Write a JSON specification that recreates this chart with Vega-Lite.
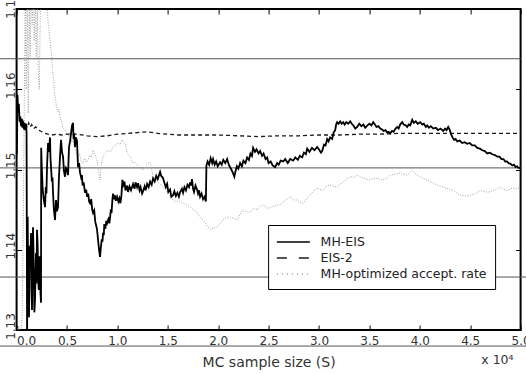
{
  "$schema": "https://vega.github.io/schema/vega-lite/v6.json",
  "width": 504,
  "height": 321,
  "autosize": {"type": "none"},
  "padding": {"left": 16.6, "top": 9, "right": 5.4, "bottom": 44},
  "background": "white",
  "config": {
    "view": {"stroke": "black", "strokeWidth": 2},
    "font": "DejaVu Sans",
    "axis": {
      "domain": false,
      "grid": false,
      "ticks": true,
      "tickColor": "black",
      "tickWidth": 1,
      "tickSize": 5,
      "offset": -5,
      "labelFont": "DejaVu Sans",
      "labelFontSize": 12,
      "labelColor": "#333333",
      "labelOverlap": false,
      "labelBound": false,
      "labelFlush": false
    }
  },
  "datasets": {
    "levels": [
      {"level": 1.1638, "from": -1650, "to": 50000},
      {"level": 1.1502, "from": -1650, "to": 50150},
      {"level": 1.1366, "from": -1650, "to": 50550},
      {"level": 1.1280, "from": -1650, "to": 50550}
    ],
    "optimized": [
      [40,1.1285],[200,1.1305],[400,1.1295],[550,1.1320],[650,1.1420],[750,1.1560],[850,1.1720],[950,1.1600],[1050,1.1730],[1150,1.1570],[1250,1.1700],[1350,1.1640],[1450,1.1740],[1550,1.1680],[1650,1.1730],[1750,1.1660],[1850,1.1720],[1950,1.1640],[2050,1.1700],[2150,1.1620],[2250,1.1600],[2350,1.1690],[2450,1.1740],[2550,1.1700],[2650,1.1750],[2750,1.1720],[2850,1.1760],[2950,1.1720],[3050,1.1700],[3150,1.1680],[3315,1.1660],[3450,1.1645],[3550,1.1625],[3650,1.1615],[3750,1.1595],[3850,1.1590],[3950,1.1578],[4100,1.1572],[4200,1.1575],[4308,1.1565],[4450,1.1560],[4600,1.1552],[4750,1.1550],[5003,1.1545],[5150,1.1541],[5300,1.1545],[5450,1.1534],[5598,1.1537],[5750,1.1528],[5900,1.1522],[6095,1.1516],[6250,1.1520],[6400,1.1510],[6591,1.1508],[6750,1.1514],[6900,1.1509],[7088,1.1512],[7250,1.1518],[7400,1.1515],[7584,1.1524],[7750,1.1518],[7980,1.1512],[8100,1.1500],[8278,1.1487],[8400,1.1505],[8576,1.1516],[8800,1.1520],[9072,1.1524],[9300,1.1522],[9569,1.1528],[9800,1.1530],[10065,1.1533],[10250,1.1531],[10463,1.1537],[10600,1.1534],[10761,1.1533],[10959,1.1521],[11100,1.1518],[11257,1.1516],[11400,1.1512],[11555,1.1508],[11750,1.1509],[11952,1.1506],[12250,1.1502],[12547,1.1499],[12900,1.1505],[13243,1.1509],[13400,1.1500],[13541,1.1491],[13800,1.1488],[14050,1.1484],[14300,1.1481],[14534,1.1478],[14800,1.1474],[15050,1.1470],[15300,1.1466],[15524,1.1462],[15800,1.1460],[16100,1.1461],[16517,1.1458],[16850,1.1456],[17211,1.1453],[17500,1.1450],[17850,1.1447],[18204,1.1441],[18500,1.1437],[18850,1.1431],[19197,1.1425],[19500,1.1427],[19892,1.1428],[20200,1.1433],[20487,1.1437],[20800,1.1440],[21182,1.1441],[21500,1.1439],[21877,1.1437],[22150,1.1444],[22472,1.1450],[22800,1.1447],[23167,1.1447],[23500,1.1451],[23862,1.1450],[24150,1.1454],[24458,1.1456],[24800,1.1452],[25153,1.1452],[25600,1.1455],[26145,1.1456],[26600,1.1461],[27138,1.1466],[27500,1.1462],[27833,1.1462],[28100,1.1459],[28428,1.1458],[28800,1.1464],[29123,1.1468],[29450,1.1473],[29818,1.1477],[30100,1.1475],[30413,1.1474],[30750,1.1479],[31108,1.1481],[31450,1.1479],[31803,1.1478],[32100,1.1482],[32399,1.1484],[32750,1.1488],[33093,1.1491],[33450,1.1490],[33788,1.1493],[34100,1.1491],[34384,1.1489],[34750,1.1488],[35079,1.1487],[35400,1.1489],[35774,1.1489],[36250,1.1487],[36766,1.1489],[37064,1.1493],[37550,1.1494],[38057,1.1496],[38400,1.1494],[38751,1.1493],[39000,1.1496],[39248,1.1499],[39500,1.1496],[39744,1.1493],[40050,1.1491],[40340,1.1489],[40850,1.1486],[41332,1.1483],[41850,1.1480],[42325,1.1478],[42800,1.1476],[43318,1.1474],[43650,1.1471],[44012,1.1468],[44500,1.1467],[45005,1.1468],[45500,1.1470],[45997,1.1474],[46500,1.1472],[46990,1.1472],[47500,1.1475],[47983,1.1478],[48300,1.1475],[48678,1.1474],[49000,1.1476],[49273,1.1477],[49600,1.1476],[49968,1.1478]
    ],
    "eis2": [
      [300,1.1562],[450,1.1556],[600,1.1561],[750,1.1554],[900,1.1559],[1050,1.1552],[1200,1.1558],[1350,1.1553],[1500,1.1556],[1700,1.1551],[1900,1.1553],[2200,1.1549],[2500,1.1547],[2800,1.1545],[3100,1.1544],[3500,1.1543],[4000,1.1544],[4500,1.1543],[5000,1.1544],[6000,1.1544],[7000,1.1542],[8000,1.1541],[9000,1.1542],[10000,1.1544],[11000,1.1545],[12000,1.1546],[13000,1.1547],[14000,1.1545],[15000,1.1544],[16000,1.1543],[18000,1.1543],[20000,1.1543],[22000,1.1542],[24000,1.1541],[26000,1.1542],[28000,1.1542],[30000,1.1543],[32000,1.1543],[34000,1.1544],[36000,1.1544],[38000,1.1545],[40000,1.1545],[42000,1.1545],[44000,1.1545],[46000,1.1545],[48000,1.1545],[50000,1.1545]
    ],
    "mheis": [
      [30,1.1520],[90,1.1593],[150,1.1572],[220,1.1582],[300,1.1560],[370,1.1566],[440,1.1554],[510,1.1563],[580,1.1552],[650,1.1560],[720,1.1550],[790,1.1558],[860,1.1549],[930,1.1556],[990,1.1546],[1040,1.1285],[1100,1.1441],[1160,1.1340],[1231,1.1316],[1300,1.1405],[1360,1.1380],[1429,1.1421],[1480,1.1350],[1529,1.1325],[1580,1.1395],[1628,1.1428],[1700,1.1382],[1760,1.1322],[1826,1.1337],[1880,1.1372],[1926,1.1396],[1975,1.1358],[2025,1.1425],[2080,1.1408],[2130,1.1378],[2180,1.1352],[2223,1.1350],[2280,1.1392],[2323,1.1378],[2370,1.1346],[2422,1.1334],[2440,1.1527],[2480,1.1510],[2521,1.1496],[2570,1.1480],[2620,1.1471],[2700,1.1462],[2819,1.1453],[2900,1.1478],[2960,1.1470],[3017,1.1503],[3117,1.1533],[3200,1.1522],[3315,1.1540],[3360,1.1515],[3415,1.1503],[3500,1.1485],[3560,1.1490],[3613,1.1471],[3700,1.1450],[3812,1.1437],[3911,1.1462],[4000,1.1448],[4110,1.1453],[4200,1.1490],[4308,1.1516],[4407,1.1537],[4500,1.1522],[4606,1.1516],[4700,1.1498],[4804,1.1491],[4900,1.1502],[5003,1.1500],[5100,1.1493],[5201,1.1528],[5300,1.1535],[5400,1.1545],[5499,1.1555],[5598,1.1558],[5650,1.1538],[5700,1.1545],[5797,1.1528],[5900,1.1540],[5995,1.1535],[6095,1.1503],[6200,1.1508],[6293,1.1496],[6400,1.1490],[6480,1.1493],[6550,1.1480],[6650,1.1484],[6790,1.1471],[6900,1.1475],[7000,1.1466],[7100,1.1470],[7200,1.1460],[7286,1.1458],[7400,1.1463],[7500,1.1450],[7584,1.1446],[7700,1.1449],[7800,1.1435],[7900,1.1430],[7980,1.1425],[8100,1.1410],[8200,1.1398],[8278,1.1391],[8350,1.1402],[8450,1.1413],[8520,1.1410],[8576,1.1421],[8650,1.1418],[8700,1.1432],[8800,1.1426],[8900,1.1436],[8973,1.1433],[9100,1.1438],[9200,1.1433],[9271,1.1440],[9350,1.1450],[9420,1.1446],[9500,1.1462],[9569,1.1470],[9650,1.1463],[9750,1.1468],[9850,1.1461],[9966,1.1466],[10100,1.1460],[10200,1.1464],[10300,1.1458],[10400,1.1468],[10500,1.1487],[10600,1.1481],[10700,1.1485],[10800,1.1474],[10959,1.1480],[11050,1.1472],[11200,1.1479],[11350,1.1474],[11555,1.1482],[11700,1.1476],[11800,1.1484],[11950,1.1478],[12051,1.1483],[12200,1.1474],[12300,1.1478],[12450,1.1470],[12547,1.1473],[12700,1.1479],[12800,1.1474],[12950,1.1482],[13100,1.1478],[13243,1.1485],[13400,1.1481],[13541,1.1489],[13700,1.1485],[13850,1.1492],[14000,1.1488],[14236,1.1497],[14350,1.1492],[14500,1.1490],[14650,1.1484],[14800,1.1478],[14931,1.1482],[15050,1.1472],[15227,1.1475],[15350,1.1466],[15524,1.1468],[15650,1.1473],[15800,1.1467],[15950,1.1471],[16100,1.1466],[16219,1.1472],[16400,1.1476],[16517,1.1471],[16650,1.1478],[16800,1.1474],[16950,1.1481],[17100,1.1478],[17211,1.1484],[17300,1.1480],[17400,1.1488],[17510,1.1476],[17600,1.1472],[17750,1.1480],[17907,1.1475],[18000,1.1470],[18100,1.1474],[18204,1.1466],[18350,1.1470],[18500,1.1463],[18650,1.1466],[18780,1.1460],[18830,1.1505],[18950,1.1510],[19100,1.1506],[19250,1.1514],[19400,1.1508],[19495,1.1513],[19650,1.1506],[19800,1.1510],[19950,1.1504],[20189,1.1509],[20350,1.1506],[20500,1.1512],[20700,1.1508],[20884,1.1513],[21050,1.1506],[21300,1.1500],[21450,1.1496],[21600,1.1491],[21700,1.1497],[21850,1.1504],[22000,1.1501],[22174,1.1508],[22350,1.1504],[22500,1.1511],[22700,1.1508],[22869,1.1515],[23050,1.1512],[23200,1.1520],[23350,1.1517],[23465,1.1527],[23650,1.1522],[23800,1.1525],[24000,1.1520],[24160,1.1523],[24350,1.1517],[24500,1.1520],[24700,1.1513],[24855,1.1515],[25000,1.1508],[25200,1.1510],[25400,1.1505],[25649,1.1503],[25850,1.1508],[26000,1.1506],[26200,1.1511],[26443,1.1510],[26650,1.1513],[26900,1.1508],[27150,1.1513],[27436,1.1511],[27650,1.1515],[27900,1.1512],[28100,1.1517],[28329,1.1515],[28500,1.1521],[28700,1.1519],[28825,1.1526],[29050,1.1522],[29300,1.1527],[29550,1.1524],[29818,1.1528],[30000,1.1525],[30200,1.1521],[30314,1.1523],[30500,1.1531],[30650,1.1530],[30810,1.1538],[30950,1.1535],[31100,1.1540],[31307,1.1538],[31450,1.1546],[31605,1.1549],[31700,1.1556],[31803,1.1559],[31950,1.1557],[32100,1.1560],[32250,1.1557],[32399,1.1559],[32550,1.1556],[32700,1.1559],[32900,1.1557],[33093,1.1560],[33250,1.1557],[33400,1.1555],[33600,1.1551],[33788,1.1553],[34000,1.1557],[34200,1.1554],[34400,1.1556],[34582,1.1552],[34800,1.1555],[35000,1.1557],[35200,1.1555],[35376,1.1559],[35550,1.1556],[35700,1.1553],[35900,1.1554],[36071,1.1551],[36250,1.1550],[36400,1.1548],[36600,1.1549],[36766,1.1546],[36900,1.1547],[37064,1.1545],[37250,1.1548],[37400,1.1547],[37600,1.1551],[37759,1.1553],[37900,1.1551],[38050,1.1556],[38255,1.1559],[38400,1.1556],[38600,1.1555],[38751,1.1553],[38900,1.1556],[39050,1.1555],[39248,1.1562],[39400,1.1558],[39600,1.1560],[39800,1.1557],[40042,1.1559],[40250,1.1556],[40400,1.1557],[40600,1.1553],[40737,1.1555],[40900,1.1552],[41100,1.1554],[41332,1.1551],[41600,1.1552],[41800,1.1549],[42050,1.1551],[42325,1.1548],[42500,1.1551],[42650,1.1549],[42821,1.1553],[42950,1.1550],[43100,1.1544],[43250,1.1540],[43400,1.1537],[43550,1.1538],[43714,1.1535],[43950,1.1536],[44200,1.1533],[44450,1.1534],[44707,1.1532],[44950,1.1533],[45200,1.1530],[45450,1.1530],[45700,1.1527],[45950,1.1526],[46200,1.1524],[46450,1.1523],[46692,1.1520],[46950,1.1521],[47200,1.1519],[47450,1.1518],[47685,1.1516],[47900,1.1516],[48100,1.1513],[48300,1.1513],[48479,1.1510],[48650,1.1510],[48800,1.1508],[49000,1.1507],[49174,1.1505],[49350,1.1506],[49500,1.1503],[49650,1.1504],[49770,1.1502],[50000,1.1502]
    ]
  },
  "layer": [
    {
      "data": {"name": "levels"},
      "mark": {"type": "rule", "clip": false, "color": "#555555", "strokeWidth": 1},
      "encoding": {
        "x": {"field": "from", "type": "quantitative", "axis": null, "scale": {"domain": [0, 50000], "nice": false, "zero": false}},
        "x2": {"field": "to"},
        "y": {"field": "level", "type": "quantitative", "axis": null, "scale": {"domain": [1.13, 1.17], "nice": false, "zero": false}}
      }
    },
    {
      "data": {"name": "optimized"},
      "transform": [
        {"calculate": "datum[0]", "as": "S"},
        {"calculate": "datum[1]", "as": "estimate"}
      ],
      "mark": {"type": "line", "clip": true, "color": "#a3a3a3", "strokeWidth": 1, "strokeDash": [1, 1.5]},
      "encoding": {
        "x": {"field": "S", "type": "quantitative", "axis": null, "scale": {"domain": [0, 50000], "nice": false, "zero": false}},
        "y": {"field": "estimate", "type": "quantitative", "axis": null, "scale": {"domain": [1.13, 1.17], "nice": false, "zero": false}}
      }
    },
    {
      "data": {"name": "eis2"},
      "transform": [
        {"calculate": "datum[0]", "as": "S"},
        {"calculate": "datum[1]", "as": "estimate"}
      ],
      "mark": {"type": "line", "clip": true, "color": "#1a1a1a", "strokeWidth": 1.3, "strokeDash": [4, 3]},
      "encoding": {
        "x": {"field": "S", "type": "quantitative", "axis": null, "scale": {"domain": [0, 50000], "nice": false, "zero": false}},
        "y": {"field": "estimate", "type": "quantitative", "axis": null, "scale": {"domain": [1.13, 1.17], "nice": false, "zero": false}}
      }
    },
    {
      "data": {"name": "mheis"},
      "transform": [
        {"calculate": "datum[0]", "as": "S"},
        {"calculate": "datum[1]", "as": "estimate"}
      ],
      "mark": {"type": "line", "clip": true, "color": "black", "strokeWidth": 1.8},
      "encoding": {
        "x": {
          "field": "S", "type": "quantitative",
          "scale": {"domain": [0, 50000], "nice": false, "zero": false},
          "axis": {
            "orient": "bottom",
            "values": [0, 5000, 10000, 15000, 20000, 25000, 30000, 35000, 40000, 45000, 50000],
            "labelExpr": "format(datum.value / 10000, '.1f')",
            "labelPadding": 5,
            "labelAlign": {"condition": {"test": "datum.value == 0", "value": "left"}, "value": "center"},
            "title": "MC sample size (S)",
            "titleFont": "DejaVu Sans",
            "titleFontSize": 14,
            "titleFontWeight": "normal",
            "titleColor": "#333333",
            "titlePadding": 9
          }
        },
        "y": {
          "field": "estimate", "type": "quantitative",
          "scale": {"domain": [1.13, 1.17], "nice": false, "zero": false},
          "axis": {
            "orient": "left",
            "values": [1.13, 1.14, 1.15, 1.16, 1.17],
            "format": ".2f",
            "labelAngle": 270,
            "labelAlign": "center",
            "labelBaseline": "alphabetic",
            "labelPadding": 2.5,
            "labelOffset": -4,
            "title": null
          }
        }
      }
    },
    {
      "data": {"values": [{"method": "MH-EIS"}, {"method": "EIS-2"}, {"method": "MH-optimized accept. rate"}]},
      "mark": {"type": "line", "opacity": 0},
      "encoding": {
        "color": {
          "field": "method", "type": "nominal",
          "scale": {"domain": ["MH-EIS", "EIS-2", "MH-optimized accept. rate"], "range": ["#000000", "#1a1a1a", "#9a9a9a"]},
          "legend": {
            "title": null,
            "orient": "none",
            "legendX": 251.5,
            "legendY": 216,
            "padding": 8,
            "strokeColor": "black",
            "fillColor": "white",
            "symbolType": "M-1,0H3",
            "symbolSize": 272,
            "symbolStrokeWidth": 1.3,
            "symbolOpacity": 1,
            "labelFont": "DejaVu Sans",
            "labelFontSize": 12.5,
            "labelColor": "#222222",
            "labelOffset": 26.5,
            "labelLimit": 300,
            "rowPadding": 0,
            "encode": {
              "symbols": {
                "update": {
                  "strokeDash": {"signal": "datum.value === 'EIS-2' ? [10, 12] : datum.value === 'MH-EIS' ? [1, 0] : [1, 4]"},
                  "opacity": {"value": 1}
                }
              }
            }
          }
        }
      }
    },
    {
      "data": {"values": [{"note": "x 10⁴"}]},
      "mark": {"type": "text", "clip": false, "font": "DejaVu Sans", "fontSize": 12.5, "color": "#333333", "align": "center", "baseline": "middle"},
      "encoding": {
        "x": {
          "datum": 47700, "type": "quantitative",
          "scale": {"domain": [0, 50000], "nice": false, "zero": false},
          "axis": {"orient": "top", "values": [0, 5000, 10000, 15000, 20000, 25000, 30000, 35000, 40000, 45000, 50000], "labels": false, "title": null}
        },
        "y": {
          "datum": 1.1262, "type": "quantitative",
          "scale": {"domain": [1.13, 1.17], "nice": false, "zero": false},
          "axis": {"orient": "right", "values": [1.13, 1.14, 1.15, 1.16, 1.17], "labels": false, "title": null}
        },
        "text": {"field": "note"}
      }
    }
  ],
  "resolve": {"axis": {"x": "independent", "y": "independent"}}
}
